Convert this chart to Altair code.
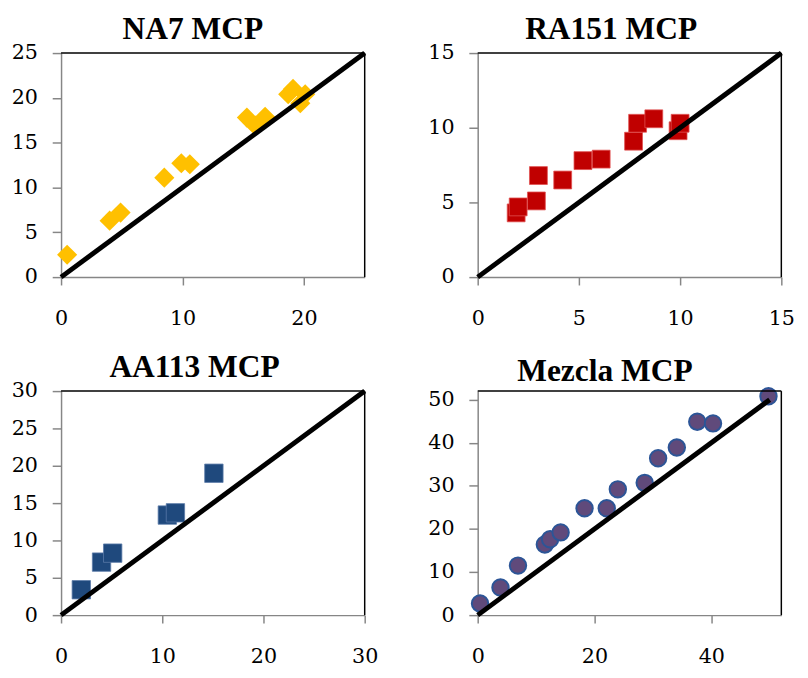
import altair as alt
import pandas as pd

# ---- data ----
na7_x = [0.5, 4.0, 4.9, 8.5, 9.9, 10.6, 15.3, 16.0, 16.8, 18.7, 19.1, 19.7, 20.1]
na7_y = [2.5, 6.3, 7.2, 11.1, 12.7, 12.6, 17.8, 16.9, 17.9, 20.4, 21.0, 19.4, 20.4]

ra151_x = [1.9, 2.0, 2.9, 3.0, 4.2, 5.2, 6.1, 7.7, 7.9, 8.7, 9.9, 10.0]
ra151_y = [4.3, 4.7, 5.1, 6.8, 6.5, 7.8, 7.9, 9.1, 10.3, 10.6, 9.8, 10.3]

aa113_x = [2.0, 4.0, 5.1, 10.5, 11.3, 15.1]
aa113_y = [3.4, 7.1, 8.3, 13.4, 13.7, 19.0]

mez_x = [0.4, 3.9, 6.9, 11.5, 12.4, 14.2, 18.3, 22.1, 24.0, 28.6, 30.9, 34.1, 37.6, 40.3, 49.8]
mez_y = [2.7, 6.4, 11.5, 16.4, 17.6, 19.2, 24.8, 24.8, 29.2, 30.7, 36.4, 38.9, 44.9, 44.5, 50.8]

titles = ["NA7 MCP", "RA151 MCP", "AA113 MCP", "Mezcla MCP"]
x_domains = [25, 15, 30, 52]
y_domains = [25, 15, 30, 52]
diag_max = [25, 15, 30, 50]
x_ticks = [[0, 10, 20], [0, 5, 10, 15], [0, 10, 20, 30], [0, 20, 40]]
y_ticks = [[0, 5, 10, 15, 20, 25], [0, 5, 10, 15], [0, 5, 10, 15, 20, 25, 30],
           [0, 10, 20, 30, 40, 50]]

W, H = 309, 228
GRAY = "#868686"
FONT = "'Liberation Serif', 'Times New Roman', Times, 'DejaVu Serif', serif"
LFONT = "DejaVu Serif"


def panel(i, xs, ys, shape, fill, stroke, size, sw):
    df = pd.DataFrame({"x": xs, "y": ys})
    xs_ = alt.Scale(domain=[0, x_domains[i]], nice=False, zero=True)
    ys_ = alt.Scale(domain=[0, y_domains[i]], nice=False, zero=True)
    common = dict(title=None, grid=False, labelOverlap=False, labelFont=LFONT,
                  labelFontSize=21, labelColor="black", domainColor=GRAY,
                  tickColor=GRAY, domainWidth=1.5, tickWidth=1.5)
    xax = alt.Axis(values=x_ticks[i], labelPadding=23, labelFlush=False,
                   tickSize=8, tickCount=len(x_ticks[i]), **common)
    yax = alt.Axis(values=y_ticks[i], labelPadding=15, tickSize=9,
                   tickCount=len(y_ticks[i]), **common)
    X = alt.X("x:Q", scale=xs_, axis=xax)
    Y = alt.Y("y:Q", scale=ys_, axis=yax)
    pts = alt.Chart(df).mark_point(
        shape=shape, filled=True, fill=fill, stroke=stroke, strokeWidth=sw,
        size=size, opacity=1
    ).encode(x=X, y=Y)
    dd = pd.DataFrame({"x": [0, diag_max[i]], "y": [0, diag_max[i]]})
    line = alt.Chart(dd).mark_line(color="black", strokeWidth=5).encode(x=X, y=Y)
    one = pd.DataFrame({"a": [0]})
    top = alt.Chart(one).mark_rule(color="black", strokeWidth=1.5).encode(
        x=alt.value(0), x2=alt.value(W), y=alt.value(0))
    right = alt.Chart(one).mark_rule(color="black", strokeWidth=1.5).encode(
        x=alt.value(W), y=alt.value(0), y2=alt.value(H))
    return alt.layer(pts, line, top, right).properties(
        width=W, height=H,
        title=alt.TitleParams(titles[i], font=FONT, fontSize=32, frame="bounds",
                              fontWeight="bold", color="black", offset=-4))


p1 = panel(0, na7_x, na7_y, "diamond", "#FFC000", "#FFC000", 420, 0)
p2 = panel(1, ra151_x, ra151_y, "square", "#C00000", "#E05050", 330, 0.8)
p3 = panel(2, aa113_x, aa113_y, "square", "#1F497D", "#5A7BA8", 350, 0.8)
p4 = panel(3, mez_x, mez_y, "circle", "#604A7B", "#2C5597", 280, 2)

chart = alt.concat(p1, p2, p3, p4, columns=2, spacing={"row": 24, "column": 50}).configure_view(
    stroke=None
).configure_axis(
    labelFont=LFONT, labelFontSize=21, labelColor="black",
    domainColor=GRAY, tickColor=GRAY, domainWidth=1.5, tickWidth=1.5
).properties(padding={"left": 3, "top": 0, "right": 5, "bottom": 0})

chart.save("out.html", embed_options={"renderer": "svg", "actions": False})
